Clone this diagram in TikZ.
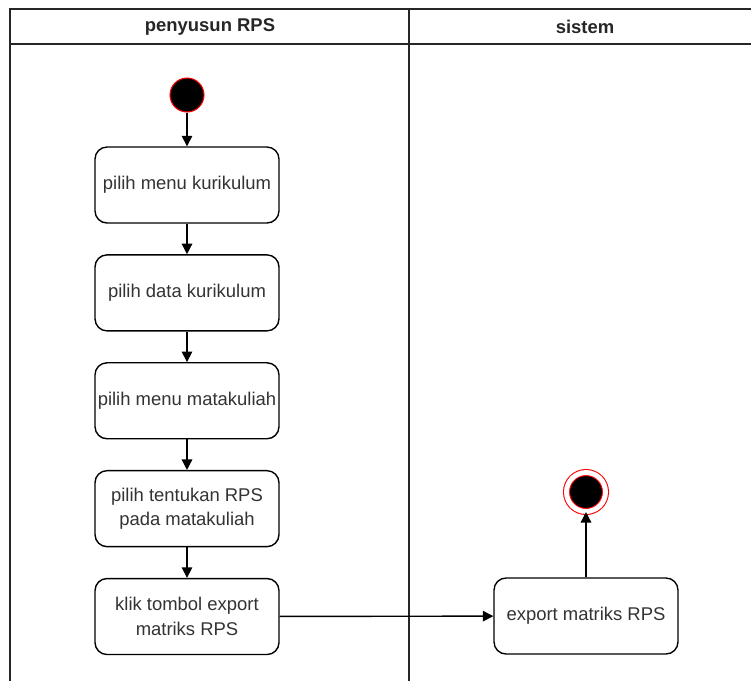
\documentclass[tikz,border=0pt]{standalone}
\usepackage{fontspec}
\setmainfont{Liberation Sans}
\usetikzlibrary{positioning, arrows.meta}

\tikzset{
  activity/.style={draw, rounded corners=0.24cm, line width=0.8pt, fill=white,
    minimum width=3.68cm, minimum height=1.52cm, inner xsep=1pt, align=center,
    text=black!80, font=\fontsize{10.5}{14}\selectfont},
  initstate/.style={circle, draw=red, fill=black, line width=0.6pt, minimum size=0.68cm, inner sep=0pt},
  finalstate/.style={circle, draw=red, fill=black, line width=0.6pt, minimum size=0.78cm, inner sep=0pt,
    double=white, double distance=2.8pt},
  lanehead/.style={font=\bfseries\fontsize{10.5}{13}\selectfont, text=black!85},
  flow/.style={-{Triangle[length=6pt, width=6pt]}, line width=0.8pt}
}

\begin{document}
\begin{tikzpicture}[x=0.02cm, y=-0.02cm, node distance=0.61cm]
  \useasboundingbox (0,0) rectangle (751,680);
  % swimlanes
  \draw[line width=0.9pt, black!85] (10,700) -- (10,9) -- (760,9);
  \draw[line width=0.9pt, black!85] (10,44) -- (760,44);
  \draw[line width=0.9pt, black!85] (409,9) -- (409,700);
  \node[lanehead] (laneA) at (210,27) {penyusun RPS};
  \node[lanehead] (laneB) at (585,27) {sistem};

  % penyusun RPS
  \node[initstate] (start) at (187,95) {};
  \node[activity] (kurikulum) at (187,185) {pilih menu kurikulum};
  \node[activity] (datakur) [below=of kurikulum] {pilih data kurikulum};
  \node[activity] (matkul) [below=of datakur] {pilih menu matakuliah};
  \node[activity] (tentukan) [below=of matkul] {pilih tentukan RPS\\pada matakuliah};
  \node[activity] (klik) [below=of tentukan] {klik tombol export\\matriks RPS};

  % sistem
  \node[activity] (export) at (586,616) {export matriks RPS};
  \node[finalstate] (end) at (586,492) {};

  \draw[flow] (start) -- (kurikulum);
  \draw[flow] (kurikulum) -- (datakur);
  \draw[flow] (datakur) -- (matkul);
  \draw[flow] (matkul) -- (tentukan);
  \draw[flow] (tentukan) -- (klik);
  \draw[flow] (klik) -- (export);
  \draw[flow] (export) -- (end);
\end{tikzpicture}
\end{document}
